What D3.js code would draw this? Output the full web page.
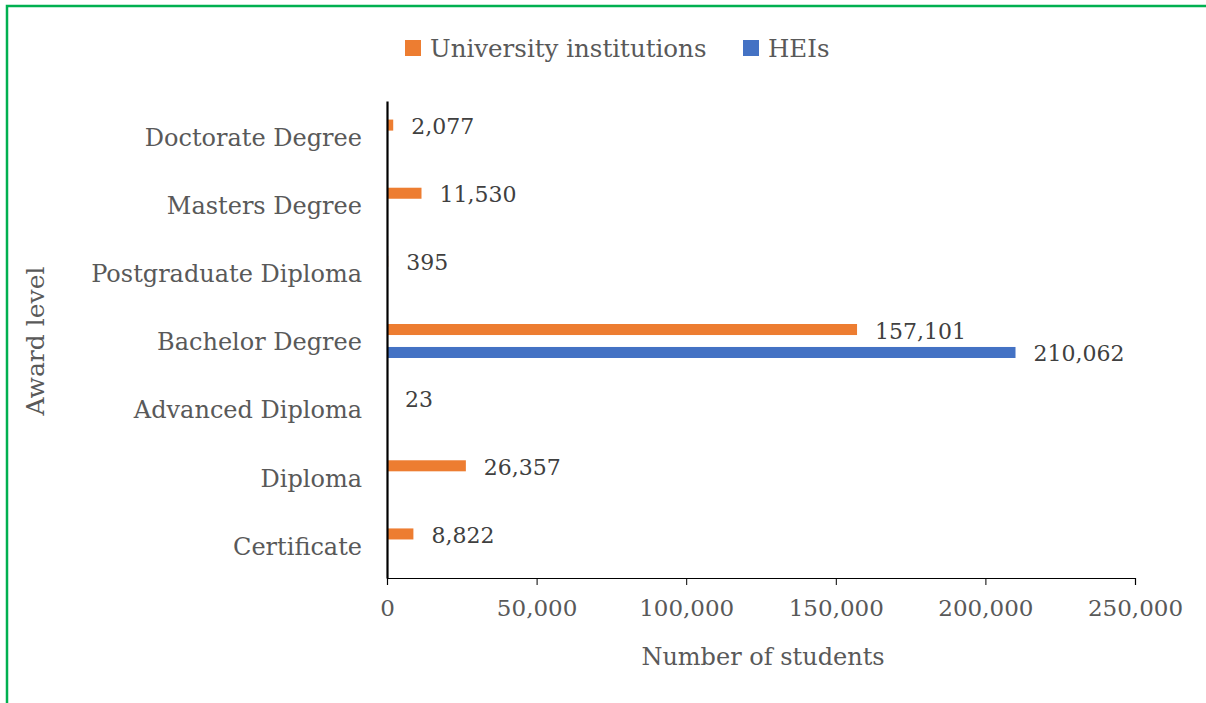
<!DOCTYPE html>
<html>
<head>
<meta charset="utf-8">
<script src="https://cdn.jsdelivr.net/npm/d3@7"></script>
<style>
  body { margin: 0; background: #fff; }
  svg { display: block; }
</style>
</head>
<body>
<div id="chart"></div>
<script>
// data
var categories = ["Doctorate Degree", "Masters Degree", "Postgraduate Diploma", "Bachelor Degree",
                  "Advanced Diploma", "Diploma", "Certificate"];
var series = ["University institutions", "HEIs"];
var uniValues = [2077, 11530, 395, 157101, 23, 26357, 8822];
var heiValues = [null, null, null, 210062, null, null, null];
var xTicks = [0, 50000, 100000, 150000, 200000, 250000];
var colors = ["#ED7D31", "#4472C4"];

var W = 1206, H = 703;
var font = "DejaVu Serif";
var plot = { left: 387, right: 1135, top: 101, bottom: 578 };

var svg = d3.select("#chart").append("svg")
    .attr("width", W).attr("height", H);

// green frame
svg.append("rect")
    .attr("x", 7).attr("y", 6)
    .attr("width", W + 50).attr("height", H + 50)
    .attr("fill", "none").attr("stroke", "#00B050").attr("stroke-width", 2.5);

var x = d3.scaleLinear().domain([0, 250000]).range([plot.left, plot.right]);
var y = d3.scaleBand().domain(categories).range([plot.top, plot.bottom]);
var inner = d3.scaleBand().domain(series).range([-15.5, 18.5]).paddingInner(0.52);

// rows of data
var rows = [];
categories.forEach(function(c, i) {
    rows.push({ cat: c, s: series[0], v: uniValues[i] });
    if (heiValues[i] != null) rows.push({ cat: c, s: series[1], v: heiValues[i] });
});

function barY(d) { return y(d.cat) + y.bandwidth() / 2 + inner(d.s); }

svg.selectAll(".bar")
    .data(rows)
    .enter().append("rect")
    .attr("class", "bar")
    .attr("x", x(0))
    .attr("y", barY)
    .attr("width", function(d) { return x(d.v) - x(0); })
    .attr("height", inner.bandwidth())
    .attr("fill", function(d) { return colors[series.indexOf(d.s)]; });

svg.selectAll(".val")
    .data(rows)
    .enter().append("text")
    .attr("class", "val")
    .attr("x", function(d) { return x(d.v) + 18; })
    .attr("y", function(d) { return barY(d) + inner.bandwidth() / 2 + 1.5; })
    .attr("dominant-baseline", "central")
    .attr("font-family", font).attr("font-size", 22)
    .attr("fill", "#404040")
    .text(function(d) { return d3.format(",")(d.v); });

// x axis
var xAxis = svg.append("g")
    .attr("transform", "translate(0," + plot.bottom + ")")
    .call(d3.axisBottom(x).tickValues(xTicks).tickFormat(d3.format(",")).tickSize(7).tickPadding(15));
xAxis.select(".domain").attr("stroke", "#000").attr("stroke-width", 1.2);
xAxis.selectAll(".tick line").attr("stroke", "#000");
xAxis.selectAll(".tick text")
    .attr("font-family", font).attr("font-size", 23).attr("fill", "#595959");

// y axis
var yAxis = svg.append("g")
    .attr("transform", "translate(" + plot.left + ",0)")
    .call(d3.axisLeft(y).tickSize(0).tickPadding(25));
yAxis.select(".domain").attr("stroke", "#000").attr("stroke-width", 2.2);
yAxis.selectAll(".tick text")
    .attr("font-family", font).attr("font-size", 24).attr("fill", "#595959")
    .attr("dy", "0.45em");

// axis titles
svg.append("text")
    .attr("x", (plot.left + plot.right) / 2 + 2).attr("y", 657)
    .attr("text-anchor", "middle").attr("dominant-baseline", "central")
    .attr("font-family", font).attr("font-size", 24).attr("fill", "#595959")
    .text("Number of students");

svg.append("text")
    .attr("transform", "translate(35,341) rotate(-90)")
    .attr("text-anchor", "middle").attr("dominant-baseline", "central")
    .attr("font-family", font).attr("font-size", 25).attr("fill", "#595959")
    .text("Award level");

// legend
var legendX = [405, 743];
var leg = svg.selectAll(".leg")
    .data(series)
    .enter().append("g")
    .attr("class", "leg")
    .attr("transform", function(d, i) { return "translate(" + legendX[i] + ",40)"; });
leg.append("rect")
    .attr("width", 16).attr("height", 16)
    .attr("fill", function(d, i) { return colors[i]; });
leg.append("text")
    .attr("x", 25).attr("y", 8)
    .attr("dominant-baseline", "central")
    .attr("font-family", font).attr("font-size", 24.5).attr("fill", "#595959")
    .text(function(d) { return d; });
</script>
</body>
</html>
